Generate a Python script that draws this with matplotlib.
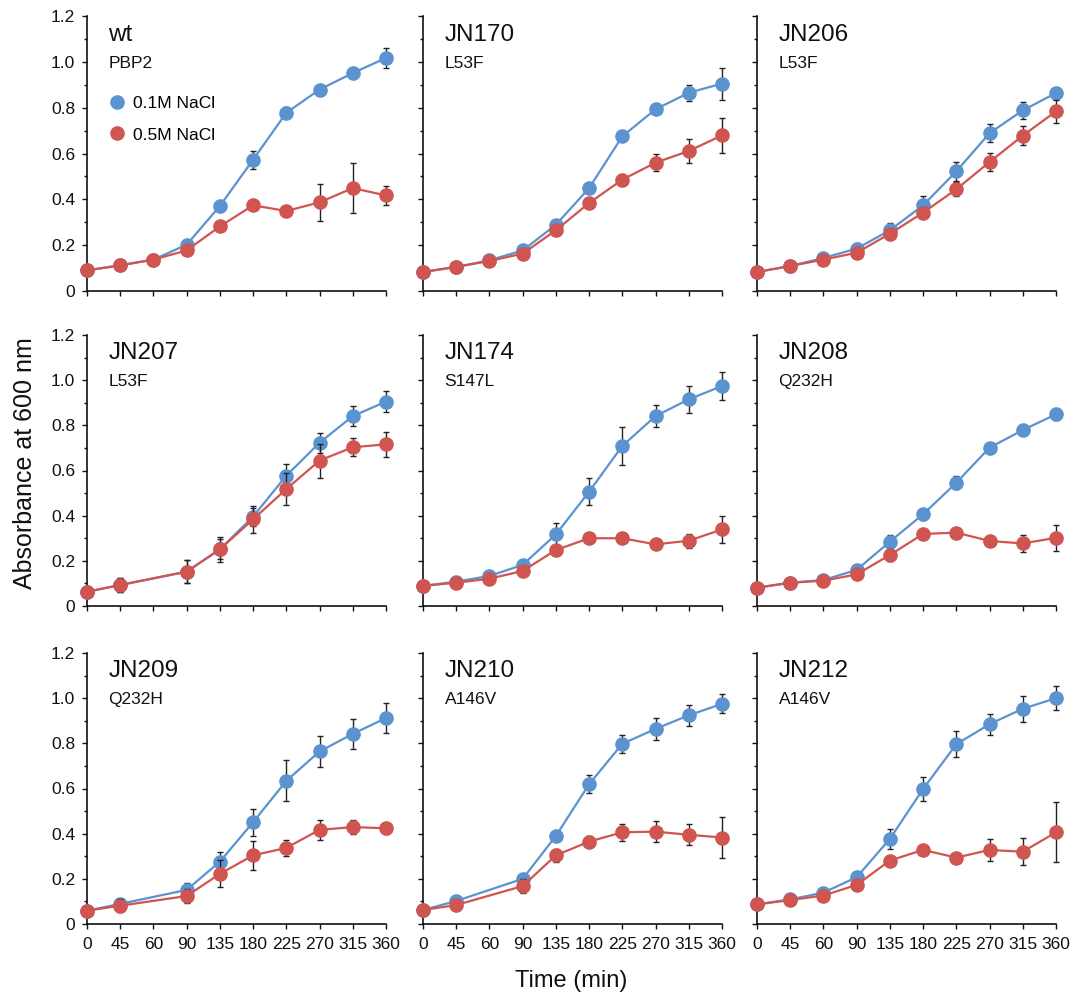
import numpy as np
import matplotlib
matplotlib.use("Agg")
import matplotlib.pyplot as plt

plt.rcParams['font.family'] = ['Liberation Sans', 'DejaVu Sans']

# Sampling times (categorical axis, equally spaced)
time_labels = ['0', '45', '60', '90', '135', '180', '225', '270', '315', '360']
y_ticks = [0, 0.2, 0.4, 0.6, 0.8, 1.0, 1.2]
y_tick_labels = ['0', '0.2', '0.4', '0.6', '0.8', '1.0', '1.2']

strains = ['wt', 'JN170', 'JN206', 'JN207', 'JN174', 'JN208', 'JN209', 'JN210', 'JN212']
mutations = ['PBP2', 'L53F', 'L53F', 'L53F', 'S147L', 'Q232H', 'Q232H', 'A146V', 'A146V']

N = None
# 0.1M NaCl means / SD and 0.5M NaCl means / SD for each strain
wt_low = [0.090, 0.112, 0.137, 0.202, 0.371, 0.573, 0.778, 0.879, 0.951, 1.017]
wt_low_sd = [0.005, 0.005, 0.005, 0.010, 0.010, 0.039, 0.023, 0.015, 0.020, 0.045]
wt_high = [0.090, 0.112, 0.137, 0.177, 0.282, 0.374, 0.349, 0.387, 0.449, 0.417]
wt_high_sd = [0.005, 0.005, 0.005, 0.010, 0.010, 0.010, 0.010, 0.082, 0.108, 0.041]

jn170_low = [0.083, 0.105, 0.134, 0.177, 0.289, 0.449, 0.675, 0.793, 0.865, 0.905]
jn170_low_sd = [0.005, 0.005, 0.005, 0.010, 0.010, 0.010, 0.010, 0.020, 0.036, 0.070]
jn170_high = [0.083, 0.105, 0.131, 0.163, 0.265, 0.384, 0.486, 0.560, 0.611, 0.679]
jn170_high_sd = [0.005, 0.005, 0.005, 0.010, 0.010, 0.010, 0.010, 0.036, 0.054, 0.076]

jn206_low = [0.083, 0.109, 0.144, 0.185, 0.265, 0.374, 0.522, 0.689, 0.788, 0.864]
jn206_low_sd = [0.005, 0.005, 0.010, 0.025, 0.030, 0.040, 0.040, 0.040, 0.036, 0.015]
jn206_high = [0.083, 0.109, 0.137, 0.167, 0.250, 0.342, 0.444, 0.563, 0.678, 0.784]
jn206_high_sd = [0.005, 0.005, 0.010, 0.010, 0.020, 0.025, 0.030, 0.040, 0.040, 0.050]

jn207_low = [0.063, 0.093, N, 0.152, 0.251, 0.396, 0.577, 0.723, 0.841, 0.905]
jn207_low_sd = [0.020, 0.030, N, 0.050, 0.055, 0.040, 0.050, 0.045, 0.045, 0.045]
jn207_high = [0.063, 0.093, N, 0.152, 0.251, 0.384, 0.518, 0.644, 0.703, 0.716]
jn207_high_sd = [0.020, 0.030, N, 0.050, 0.045, 0.060, 0.070, 0.075, 0.040, 0.055]

jn174_low = [0.089, 0.108, 0.133, 0.182, 0.317, 0.506, 0.709, 0.841, 0.915, 0.974]
jn174_low_sd = [0.005, 0.005, 0.010, 0.010, 0.050, 0.060, 0.085, 0.050, 0.060, 0.060]
jn174_high = [0.089, 0.103, 0.121, 0.155, 0.248, 0.300, 0.300, 0.273, 0.289, 0.339]
jn174_high_sd = [0.005, 0.005, 0.005, 0.010, 0.020, 0.010, 0.010, 0.010, 0.030, 0.058]

jn208_low = [0.081, 0.103, 0.115, 0.160, 0.285, 0.406, 0.546, 0.701, 0.779, 0.849]
jn208_low_sd = [0.005, 0.005, 0.005, 0.015, 0.030, 0.025, 0.030, 0.010, 0.020, 0.025]
jn208_high = [0.081, 0.103, 0.112, 0.140, 0.226, 0.319, 0.325, 0.288, 0.277, 0.302]
jn208_high_sd = [0.005, 0.005, 0.005, 0.010, 0.025, 0.010, 0.010, 0.010, 0.038, 0.057]

jn209_low = [0.059, 0.089, N, 0.151, 0.276, 0.451, 0.634, 0.764, 0.842, 0.912]
jn209_low_sd = [0.010, 0.020, N, 0.030, 0.045, 0.060, 0.090, 0.070, 0.067, 0.068]
jn209_high = [0.059, 0.081, N, 0.124, 0.222, 0.304, 0.337, 0.417, 0.429, 0.424]
jn209_high_sd = [0.010, 0.030, N, 0.030, 0.060, 0.065, 0.035, 0.043, 0.030, 0.025]

jn210_low = [0.062, 0.102, N, 0.200, 0.390, 0.619, 0.798, 0.864, 0.924, 0.975]
jn210_low_sd = [0.010, 0.010, N, 0.020, 0.010, 0.040, 0.040, 0.050, 0.046, 0.042]
jn210_high = [0.062, 0.084, N, 0.168, 0.304, 0.365, 0.406, 0.409, 0.395, 0.383]
jn210_high_sd = [0.010, 0.010, N, 0.030, 0.030, 0.025, 0.038, 0.045, 0.047, 0.090]

jn212_low = [0.087, 0.109, 0.139, 0.207, 0.377, 0.598, 0.796, 0.885, 0.953, 1.000]
jn212_low_sd = [0.005, 0.005, 0.010, 0.015, 0.045, 0.055, 0.058, 0.046, 0.058, 0.053]
jn212_high = [0.087, 0.106, 0.126, 0.173, 0.281, 0.328, 0.294, 0.328, 0.320, 0.406]
jn212_high_sd = [0.005, 0.005, 0.010, 0.010, 0.010, 0.010, 0.010, 0.050, 0.060, 0.133]

low_means = [wt_low, jn170_low, jn206_low, jn207_low, jn174_low, jn208_low,
             jn209_low, jn210_low, jn212_low]
low_sds = [wt_low_sd, jn170_low_sd, jn206_low_sd, jn207_low_sd, jn174_low_sd,
           jn208_low_sd, jn209_low_sd, jn210_low_sd, jn212_low_sd]
high_means = [wt_high, jn170_high, jn206_high, jn207_high, jn174_high, jn208_high,
              jn209_high, jn210_high, jn212_high]
high_sds = [wt_high_sd, jn170_high_sd, jn206_high_sd, jn207_high_sd, jn174_high_sd,
            jn208_high_sd, jn209_high_sd, jn210_high_sd, jn212_high_sd]

BLUE = '#5A93CF'
RED = '#D0544F'
INK = '#111111'

W, H = 1079, 996
fig = plt.figure(figsize=(W / 100, H / 100), dpi=100)

col_left = [87, 423, 757]
col_width = 299
row_top = [16, 335, 653]
row_bottom = [291, 606, 924]


def to_array(values):
    return np.array([np.nan if v is None else v for v in values], dtype=float)


for i in range(9):
    r, c = divmod(i, 3)
    left = col_left[c] / W
    bottom = 1 - row_bottom[r] / H
    height = (row_bottom[r] - row_top[r]) / H
    ax = fig.add_axes([left, bottom, col_width / W, height])

    x = np.arange(len(time_labels))
    for means, sds, color, label, z in [(low_means[i], low_sds[i], BLUE, '0.1M NaCl', 3),
                                        (high_means[i], high_sds[i], RED, '0.5M NaCl', 5)]:
        m = to_array(means)
        s = to_array(sds)
        ok = ~np.isnan(m)
        ax.errorbar(x[ok], m[ok], yerr=s[ok], fmt='none', ecolor='#222222',
                    elinewidth=1.0, capsize=2.2, capthick=1.0, clip_on=False,
                    zorder=z)
        ax.plot(x[ok], m[ok], '-o', color=color, lw=1.6, ms=9.5, mec=color,
                clip_on=False, zorder=z + 1, label=label)

    ax.set_xlim(0, len(time_labels) - 1)
    ax.set_ylim(0, 1.2)
    ax.set_xticks(x)
    ax.set_yticks(y_ticks)
    ax.set_yticks(np.arange(0.1, 1.2, 0.2), minor=True)
    for side in ('top', 'right'):
        ax.spines[side].set_visible(False)
    for side in ('left', 'bottom'):
        ax.spines[side].set_linewidth(1.2)
        ax.spines[side].set_color(INK)
    ax.tick_params(axis='both', which='major', direction='out', length=3.5,
                   width=1.0, labelsize=12.5, pad=5, colors=INK)
    ax.tick_params(axis='x', which='major', pad=6)
    ax.tick_params(axis='y', which='minor', direction='out', length=2.5, width=1.0,
                   colors=INK)

    if r == 2:
        ax.set_xticklabels(time_labels)
    else:
        ax.set_xticklabels([])
    if c == 0:
        ax.set_yticklabels(y_tick_labels)
    else:
        ax.set_yticklabels([])

    ax.text(0.072, 0.91, strains[i], transform=ax.transAxes, fontsize=17.5,
            va='baseline', ha='left', color=INK)
    ax.text(0.072, 0.81, mutations[i], transform=ax.transAxes, fontsize=12.5,
            va='baseline', ha='left', color=INK)

    if i == 0:
        leg = ax.legend(loc='upper left', bbox_to_anchor=(0.075, 0.71), frameon=False,
                        handlelength=0.9, handletextpad=0.45, labelspacing=0.95,
                        borderpad=0, borderaxespad=0, fontsize=12.5)
        for h in leg.legend_handles:
            h.set_linestyle('none')

fig.text(25 / W, 1 - 463 / H, 'Absorbance at 600 nm', rotation=90, fontsize=18,
         ha='center', va='center', color=INK)
fig.text(571 / W, 1 - 981 / H, 'Time (min)', fontsize=17, ha='center',
         va='center', color=INK)

fig.savefig('out.png', dpi=100)
